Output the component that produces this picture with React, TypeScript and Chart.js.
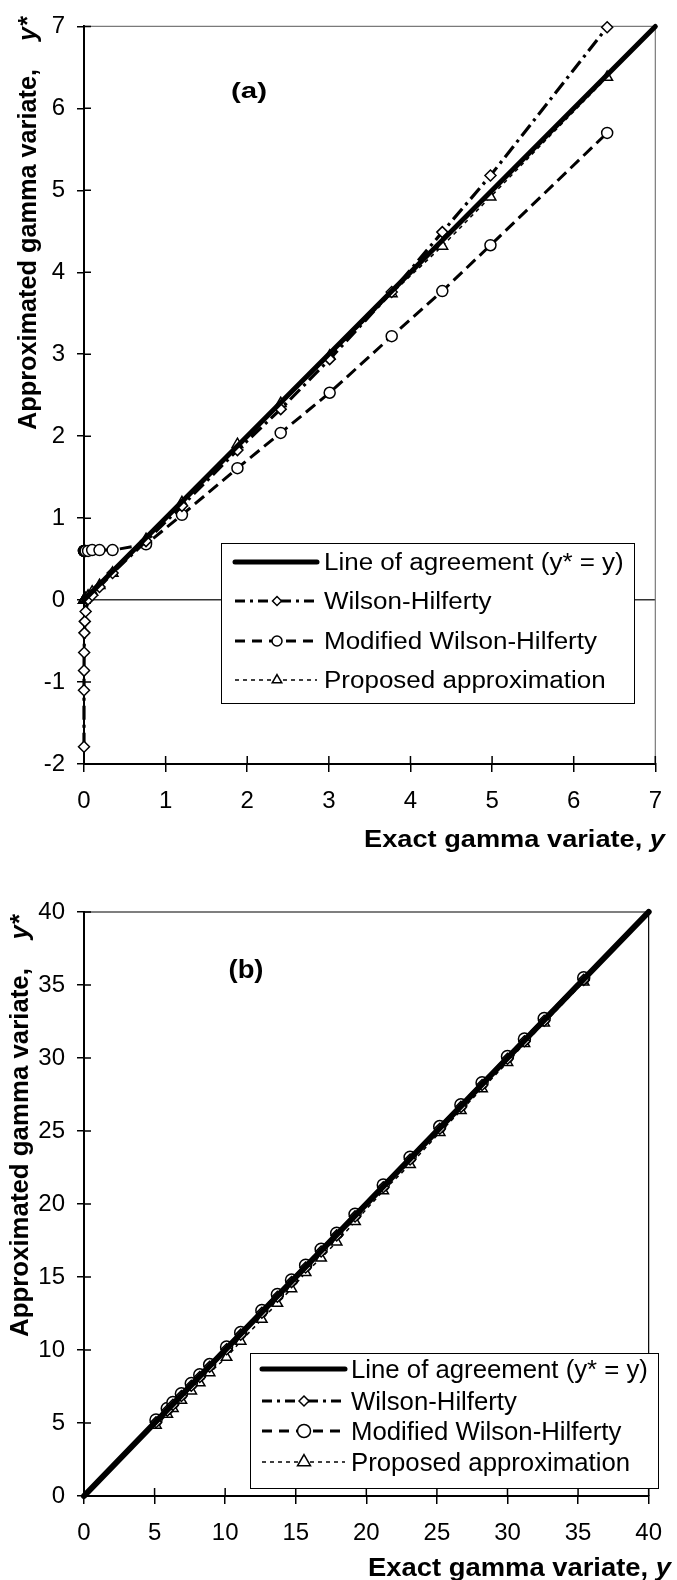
import React, { useEffect, useRef } from 'react';
import { Chart, registerables } from 'chart.js';

Chart.register(...registerables);

// ---------------- DATA ----------------
const SERIES_NAMES = [
  'Line of agreement (y* = y)',
  'Wilson-Hilferty',
  'Modified Wilson-Hilferty',
  'Proposed approximation',
];

// Panel (a)
const A_X_TICKS = [0, 1, 2, 3, 4, 5, 6, 7];
const A_Y_TICKS = [-2, -1, 0, 1, 2, 3, 4, 5, 6, 7];
const A_AGREE_X = [0, 7];
const A_AGREE_Y = [0, 7];
const A_EXACT = [0.00001, 0.0001, 0.0005, 0.002, 0.005, 0.01, 0.02, 0.05, 0.1, 0.19, 0.35, 0.76, 1.2, 1.88, 2.41, 3.01, 3.77, 4.39, 4.98, 6.41];
const A_WILSON = [-1.79, -1.1, -0.86, -0.64, -0.4, -0.26, -0.14, 0.01, 0.06, 0.16, 0.33, 0.72, 1.15, 1.83, 2.33, 2.94, 3.76, 4.49, 5.18, 6.99];
const A_MODIFIED = [0.6, 0.6, 0.6, 0.6, 0.6, 0.6, 0.6, 0.6, 0.61, 0.61, 0.61, 0.68, 1.04, 1.61, 2.04, 2.53, 3.22, 3.77, 4.33, 5.7];
const A_PROPOSED = [0, 0, 0, 0.002, 0.005, 0.01, 0.02, 0.05, 0.1, 0.18, 0.33, 0.74, 1.19, 1.9, 2.4, 2.98, 3.74, 4.32, 4.92, 6.38];

// Panel (b)
const B_TICKS = [0, 5, 10, 15, 20, 25, 30, 35, 40];
const B_AGREE_X = [0, 40];
const B_AGREE_Y = [0, 40];
const B_EXACT = [5.1, 5.9, 6.3, 6.9, 7.6, 8.2, 8.9, 10.1, 11.1, 12.6, 13.7, 14.7, 15.7, 16.8, 17.9, 19.2, 21.2, 23.1, 25.2, 26.7, 28.2, 30.0, 31.2, 32.6, 35.4];
const B_WILSON = [5.05, 5.85, 6.25, 6.85, 7.55, 8.15, 8.85, 10.05, 11.05, 12.55, 13.65, 14.65, 15.65, 16.75, 17.85, 19.15, 21.15, 23.05, 25.15, 26.65, 28.15, 29.95, 31.15, 32.55, 35.35];
const B_MODIFIED = [5.2, 6.0, 6.4, 7.0, 7.7, 8.3, 9.0, 10.2, 11.2, 12.7, 13.8, 14.8, 15.8, 16.9, 18.0, 19.3, 21.3, 23.2, 25.3, 26.8, 28.3, 30.1, 31.3, 32.7, 35.5];
const B_PROPOSED = [4.85, 5.6, 6.0, 6.55, 7.2, 7.75, 8.45, 9.5, 10.6, 12.1, 13.2, 14.2, 15.3, 16.3, 17.4, 18.8, 20.9, 22.7, 24.9, 26.4, 27.9, 29.7, 31.0, 32.4, 35.2];

// ---------------- STYLE ----------------
const FAM = '"Liberation Sans", Arial, sans-serif';
Chart.defaults.font.family = FAM;

const STYLES = [
  { dash: [] as number[], width: 5, marker: 'none' },
  { dash: [14, 5, 3, 5], width: 3.2, marker: 'rectRot' },
  { dash: [12, 6], width: 3, marker: 'circle' },
  { dash: [4, 4], width: 1.5, marker: 'triangle' },
];

type Run = { t: string; f: string };

function runsWidth(ctx: CanvasRenderingContext2D, runs: Run[]) {
  let w = 0;
  for (const r of runs) {
    ctx.font = r.f;
    w += ctx.measureText(r.t).width;
  }
  return w;
}

function drawRuns(ctx: CanvasRenderingContext2D, runs: Run[], x: number, y: number, sx: number, rotate = false) {
  ctx.save();
  ctx.translate(x, y);
  if (rotate) ctx.rotate(-Math.PI / 2);
  ctx.scale(sx, 1);
  ctx.fillStyle = '#000';
  ctx.textAlign = 'left';
  ctx.textBaseline = 'alphabetic';
  let cx = 0;
  for (const r of runs) {
    ctx.font = r.f;
    ctx.fillText(r.t, cx, 0);
    cx += ctx.measureText(r.t).width;
  }
  ctx.restore();
}

function drawMarker(ctx: CanvasRenderingContext2D, style: string, x: number, y: number, r: number) {
  if (style === 'none') return;
  ctx.beginPath();
  if (style === 'rectRot') {
    ctx.moveTo(x - r, y);
    ctx.lineTo(x, y - r);
    ctx.lineTo(x + r, y);
    ctx.lineTo(x, y + r);
    ctx.closePath();
  } else if (style === 'circle') {
    ctx.arc(x, y, r, 0, Math.PI * 2);
  } else if (style === 'triangle') {
    ctx.moveTo(x, y - r);
    ctx.lineTo(x + r * 0.866, y + r * 0.5);
    ctx.lineTo(x - r * 0.866, y + r * 0.5);
    ctx.closePath();
  }
  ctx.setLineDash([]);
  ctx.fillStyle = '#fff';
  ctx.fill();
  ctx.lineWidth = 1.5;
  ctx.strokeStyle = '#000';
  ctx.stroke();
}

type PanelCfg = {
  frameColor: string;
  panel: { text: string; cx: number; baseline: number; size: number; width: number };
  xTitle: { left: number; baseline: number; size: number; width: number };
  yTitle: { bottom: number; top: number; baselineX: number; size: number };
  legend: {
    box: [number, number, number, number];
    rows: number[];
    textX: number;
    baseOff: number;
    size: number;
    sx: number;
    lineX: [number, number];
    markerX: number;
    markerR: number[];
  };
};

function makeDecor(cfg: PanelCfg) {
  return {
    id: 'decor',
    beforeDatasetsDraw(chart: any) {
      const ctx: CanvasRenderingContext2D = chart.ctx;
      const a = chart.chartArea;
      ctx.save();
      ctx.strokeStyle = cfg.frameColor;
      ctx.lineWidth = 1.2;
      ctx.beginPath();
      ctx.moveTo(a.left, a.top);
      ctx.lineTo(a.right, a.top);
      ctx.lineTo(a.right, a.bottom);
      ctx.stroke();
      // inner halves of the crossing tick marks
      const xs = chart.scales.x;
      const ys = chart.scales.y;
      ctx.strokeStyle = '#000';
      ctx.lineWidth = 1.5;
      ctx.beginPath();
      xs.ticks.forEach((t: any) => {
        const px = xs.getPixelForValue(t.value);
        ctx.moveTo(px, a.bottom);
        ctx.lineTo(px, a.bottom - 8);
      });
      ys.ticks.forEach((t: any) => {
        const py = ys.getPixelForValue(t.value);
        ctx.moveTo(a.left, py);
        ctx.lineTo(a.left + 7, py);
      });
      ctx.stroke();
      ctx.restore();
    },
    afterDraw(chart: any) {
      const ctx: CanvasRenderingContext2D = chart.ctx;
      ctx.save();
      // panel label
      {
        const p = cfg.panel;
        const runs = [{ t: p.text, f: `bold ${p.size}px ${FAM}` }];
        const w = runsWidth(ctx, runs);
        drawRuns(ctx, runs, p.cx - p.width / 2, p.baseline, p.width / w);
      }
      // x title
      {
        const t = cfg.xTitle;
        const runs = [
          { t: 'Exact gamma variate, ', f: `bold ${t.size}px ${FAM}` },
          { t: 'y', f: `italic bold ${t.size}px ${FAM}` },
        ];
        const w = runsWidth(ctx, runs);
        drawRuns(ctx, runs, t.left, t.baseline, t.width / w);
      }
      // y title
      {
        const t = cfg.yTitle;
        const runs = [
          { t: 'Approximated gamma variate,    ', f: `bold ${t.size}px ${FAM}` },
          { t: 'y*', f: `italic bold ${t.size}px ${FAM}` },
        ];
        const w = runsWidth(ctx, runs);
        drawRuns(ctx, runs, t.baselineX, t.bottom, (t.bottom - t.top) / w, true);
      }
      // legend
      {
        const L = cfg.legend;
        const [x0, y0, x1, y1] = L.box;
        ctx.fillStyle = '#fff';
        ctx.fillRect(x0, y0, x1 - x0, y1 - y0);
        ctx.strokeStyle = '#000';
        ctx.lineWidth = 1;
        ctx.setLineDash([]);
        ctx.strokeRect(x0 + 0.5, y0 + 0.5, x1 - x0, y1 - y0);
        SERIES_NAMES.forEach((name, i) => {
          const st = STYLES[i];
          const cy = L.rows[i];
          ctx.save();
          ctx.strokeStyle = '#000';
          ctx.lineWidth = st.width;
          ctx.lineCap = i === 0 ? 'round' : 'butt';
          ctx.setLineDash(i === 1 ? [10, 5, 3, 5] : i === 2 ? [10, 7] : st.dash);
          ctx.beginPath();
          ctx.moveTo(L.lineX[0], cy);
          ctx.lineTo(L.lineX[1], cy);
          ctx.stroke();
          ctx.restore();
          drawMarker(ctx, st.marker, L.markerX, cy, L.markerR[i]);
          drawRuns(ctx, [{ t: name, f: `${L.size}px ${FAM}` }], L.textX, cy + L.baseOff, L.sx);
        });
      }
      ctx.restore();
    },
  };
}

function buildDatasets(
  agreeX: number[], agreeY: number[], exact: number[],
  wh: number[], mwh: number[], prop: number[], radius: number[], agreeWidth: number,
) {
  const pts = (xs: number[], ys: number[]) => xs.map((x, i) => ({ x, y: ys[i] }));
  const series = [pts(agreeX, agreeY), pts(exact, wh), pts(exact, mwh), pts(exact, prop)];
  return series.map((data, i) => ({
    label: SERIES_NAMES[i],
    data,
    showLine: true,
    tension: 0,
    clip: false,
    borderColor: '#000',
    borderWidth: i === 0 ? agreeWidth : STYLES[i].width,
    borderDash: STYLES[i].dash,
    borderCapStyle: i === 0 ? 'round' : 'butt',
    backgroundColor: '#fff',
    pointStyle: STYLES[i].marker === 'none' ? 'circle' : STYLES[i].marker,
    pointRadius: i === 0 ? 0 : radius[i],
    pointBorderWidth: 1.5,
    pointBorderColor: '#000',
    pointBackgroundColor: '#fff',
    pointHoverRadius: 0,
  }));
}

function axis(
  min: number, max: number, ticks: number[], isX: boolean, fit: number,
  zeroLine: boolean,
) {
  return {
    type: 'linear',
    min,
    max,
    afterBuildTicks: (s: any) => {
      s.ticks = ticks.map((v) => ({ value: v }));
    },
    afterFit: (s: any) => {
      if (isX) s.height = fit;
      else s.width = fit;
    },
    ticks: {
      font: { size: 24, family: FAM },
      color: '#000',
      padding: isX ? 15 : 12,
      maxRotation: 0,
      autoSkip: false,
      callback: (v: any) => String(v),
    },
    grid: {
      color: (c: any) => (zeroLine && c.tick && c.tick.value === 0 ? '#333' : 'rgba(0,0,0,0)'),
      lineWidth: 1.5,
      drawTicks: true,
      tickLength: isX ? 8 : 7,
      tickColor: '#000',
      tickWidth: 1.5,
    },
    border: { display: true, color: '#000', width: 2 },
    title: { display: false },
  };
}

function buildA() {
  const cfg: PanelCfg = {
    frameColor: '#7a7a7a',
    panel: { text: '(a)', cx: 249, baseline: 98, size: 22, width: 36 },
    xTitle: { left: 364, baseline: 847, size: 23, width: 301 },
    yTitle: { bottom: 430, top: 17, baselineX: 36, size: 25 },
    legend: {
      box: [221, 543, 634, 703],
      rows: [562, 601, 641, 680],
      textX: 324,
      baseOff: 8,
      size: 23,
      sx: 1.13,
      lineX: [235, 317],
      markerX: 277,
      markerR: [0, 4.5, 5, 5.5],
    },
  };
  return {
    type: 'scatter',
    data: { datasets: buildDatasets(A_AGREE_X, A_AGREE_Y, A_EXACT, A_WILSON, A_MODIFIED, A_PROPOSED, [0, 5.5, 5.5, 6.2], 5) },
    options: {
      animation: false,
      responsive: false,
      events: [],
      layout: { padding: { top: 20, right: 15, left: 0, bottom: 0 } },
      plugins: { legend: { display: false }, tooltip: { enabled: false } },
      scales: {
        x: axis(0, 7, A_X_TICKS, true, 875 - 764, false),
        y: axis(-2, 7, A_Y_TICKS, false, 84, true),
      },
    },
    plugins: [makeDecor(cfg)],
  };
}

function buildB() {
  const cfg: PanelCfg = {
    frameColor: '#000',
    panel: { text: '(b)', cx: 246, baseline: 103, size: 25, width: 35 },
    xTitle: { left: 368, baseline: 701, size: 25, width: 303 },
    yTitle: { bottom: 462, top: 40, baselineX: 28, size: 25 },
    legend: {
      box: [250, 478, 658, 613],
      rows: [494, 526, 556, 587],
      textX: 351,
      baseOff: 9,
      size: 26,
      sx: 0.99,
      lineX: [262, 345],
      markerX: 304,
      markerR: [0, 5, 6.5, 7.5],
    },
  };
  return {
    type: 'scatter',
    data: { datasets: buildDatasets(B_AGREE_X, B_AGREE_Y, B_EXACT, B_WILSON, B_MODIFIED, B_PROPOSED, [0, 5.5, 6, 6], 6) },
    options: {
      animation: false,
      responsive: false,
      events: [],
      layout: { padding: { top: 37, right: 14, left: 0, bottom: 0 } },
      plugins: { legend: { display: false }, tooltip: { enabled: false } },
      scales: {
        x: axis(0, 40, B_TICKS, true, 705 - 621, false),
        y: axis(0, 40, B_TICKS, false, 84, false),
      },
    },
    plugins: [makeDecor(cfg)],
  };
}

function ChartPanel({ height, build }: { height: number; build: () => any }) {
  const ref = useRef<HTMLCanvasElement>(null);
  useEffect(() => {
    if (!ref.current) return;
    const chart = new Chart(ref.current, build());
    return () => chart.destroy();
  }, [build]);
  return (
    <canvas
      ref={ref}
      width={677}
      height={height}
      style={{ display: 'block', width: 677, height }}
    />
  );
}

export default function App() {
  return (
    <div style={{ position: 'absolute', left: 0, top: 0, width: 677, height: 1580, background: '#fff' }}>
      <ChartPanel height={875} build={buildA} />
      <ChartPanel height={705} build={buildB} />
    </div>
  );
}
